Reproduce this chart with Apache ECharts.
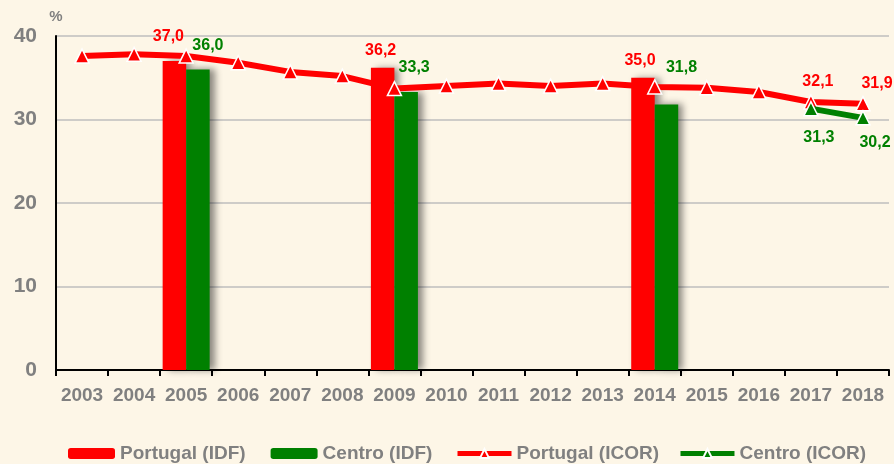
<!DOCTYPE html>
<html>
<head>
<meta charset="utf-8">
<script src="https://cdn.jsdelivr.net/npm/echarts@6/dist/echarts.min.js"></script>
<style>
  html, body { margin: 0; padding: 0; background: #FDF6E7; }
  #chart { width: 894px; height: 464px; }
</style>
</head>
<body>
<div id="chart"></div>
<script>
// Years on the category axis
const years = ['2003','2004','2005','2006','2007','2008','2009','2010','2011','2012','2013','2014','2015','2016','2017','2018'];

// Bars (IDF survey years only)
const portugalIDF = [null, null, 37.0, null, null, null, 36.2, null, null, null, null, 35.0, null, null, null, null];
const centroIDF   = [null, null, 36.0, null, null, null, 33.3, null, null, null, null, 31.8, null, null, null, null];

// Lines (ICOR series)
const portugalICOR = [37.6, 37.8, 37.6, 36.8, 35.7, 35.2, 33.7, 34.0, 34.3, 34.0, 34.3, 33.9, 33.8, 33.3, 32.1, 31.9];
const centroICOR   = [null, null, null, null, null, null, null, null, null, null, null, null, null, null, 31.3, 30.2];

// Y axis ticks
const yTicks = [0, 10, 20, 30, 40];

// Value labels: which points get one, and how each is nudged
const labelOffsets = {
  portugalIDF:  { 2: [-6, -11], 6: [-2, -4], 11: [-3, -4] },
  centroIDF:    { 2: [10, -11], 6: [8, -11], 11: [15, -24] },
  portugalICOR: { 14: [7, 0], 15: [14, 1] },
  centroICOR:   { 14: [8, 8], 15: [12, 4] }
};

const RED = '#FF0000';
const GREEN = '#008000';
const GREY = '#808080';
const FONT = '"Liberation Sans", Arial, sans-serif';

const fmt = v => v.toFixed(1).replace('.', ',');

function withLabels(values, key, color, position) {
  const offs = labelOffsets[key];
  return values.map((v, i) => {
    if (v == null) return null;
    if (!offs[i]) return { value: v };
    return {
      value: v,
      label: {
        show: true,
        position: position,
        offset: offs[i],
        formatter: p => fmt(p.value),
        color: color,
        fontFamily: FONT,
        fontWeight: 'bold',
        fontSize: 16
      }
    };
  });
}

const barShadow = {
  shadowColor: 'rgba(0,0,0,0.45)',
  shadowBlur: 7,
  shadowOffsetX: 5,
  shadowOffsetY: 0
};

const legendText = { color: GREY, fontSize: 19, fontWeight: 'bold', fontFamily: FONT };

const chart = echarts.init(document.getElementById('chart'), null, { renderer: 'canvas' });

chart.setOption({
  backgroundColor: '#FDF6E7',
  animation: false,
  textStyle: { fontFamily: FONT },
  grid: { left: 56, right: 5, top: 36, bottom: 94, containLabel: false },
  legend: [
    {
      data: ['Portugal (IDF)', 'Centro (IDF)'],
      left: 68, top: 444, padding: 0,
      itemWidth: 47, itemHeight: 11, itemGap: 25,
      textStyle: legendText
    },
    {
      data: ['Portugal (ICOR)', 'Centro (ICOR)'],
      left: 455, top: 444, padding: 0,
      itemWidth: 54, itemHeight: 11, itemGap: 19,
      lineStyle: { width: 5 },
      textStyle: legendText
    }
  ],
  xAxis: {
    type: 'category',
    data: years,
    boundaryGap: true,
    axisLine: { lineStyle: { color: '#000', width: 2 } },
    axisTick: { show: true, interval: 0, length: 6, lineStyle: { color: '#000', width: 2 } },
    axisLabel: { interval: 0, color: GREY, fontSize: 19, fontWeight: 'bold', fontFamily: FONT, margin: 16 },
    splitLine: { show: false }
  },
  yAxis: {
    type: 'value',
    min: yTicks[0],
    max: yTicks[yTicks.length - 1],
    interval: yTicks[1] - yTicks[0],
    name: '%',
    nameLocation: 'end',
    nameGap: 12,
    nameTextStyle: { color: GREY, fontSize: 15, fontWeight: 'bold', fontFamily: FONT },
    axisLine: { show: true, lineStyle: { color: '#000', width: 2 } },
    axisTick: { show: false },
    axisLabel: { color: GREY, fontSize: 21, fontWeight: 'bold', fontFamily: FONT, margin: 19 },
    splitLine: { show: true, lineStyle: { color: '#BEBEBE', width: 1.5 } }
  },
  series: [
    {
      name: 'Portugal (IDF)',
      type: 'bar',
      data: withLabels(portugalIDF, 'portugalIDF', RED, 'top'),
      barWidth: 23.5,
      barGap: '0%',
      itemStyle: Object.assign({ color: RED }, barShadow),
      z: 2
    },
    {
      name: 'Centro (IDF)',
      type: 'bar',
      data: withLabels(centroIDF, 'centroIDF', GREEN, 'top'),
      barWidth: 23.5,
      barGap: '0%',
      itemStyle: Object.assign({ color: GREEN }, barShadow),
      z: 2
    },
    {
      name: 'Portugal (ICOR)',
      type: 'line',
      data: withLabels(portugalICOR, 'portugalICOR', RED, 'top'),
      symbol: 'triangle',
      symbolSize: 14,
      showAllSymbol: true,
      lineStyle: { color: RED, width: 6 },
      itemStyle: { color: RED, borderColor: '#fff', borderWidth: 1.5 },
      z: 5
    },
    {
      name: 'Centro (ICOR)',
      type: 'line',
      data: withLabels(centroICOR, 'centroICOR', GREEN, 'bottom'),
      symbol: 'triangle',
      symbolSize: 14,
      showAllSymbol: true,
      connectNulls: false,
      lineStyle: { color: GREEN, width: 6 },
      itemStyle: { color: GREEN, borderColor: '#fff', borderWidth: 1.5 },
      z: 6
    }
  ]
});
</script>
</body>
</html>
